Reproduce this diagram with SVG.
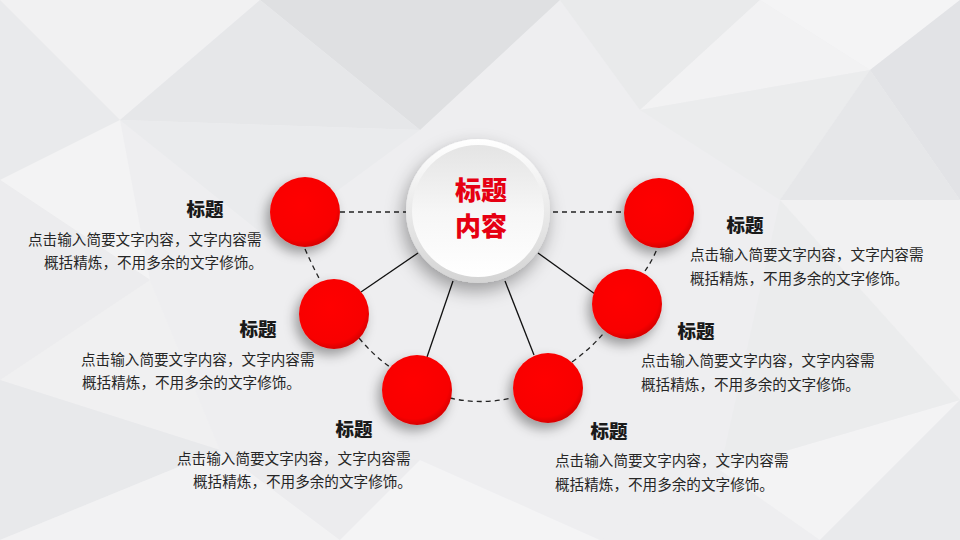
<svg xmlns="http://www.w3.org/2000/svg" width="960" height="540" viewBox="0 0 960 540">
<defs>
<style>
.t{font-family:"Noto Sans CJK SC","Noto Sans",sans-serif;font-weight:900;font-size:18.5px;fill:#1a1a1a;text-anchor:middle}
.b{font-family:"Noto Sans CJK SC","Noto Sans",sans-serif;font-size:14.6px;fill:#262626}
.ctr{font-family:"Noto Sans CJK SC","Noto Sans",sans-serif;font-weight:900;font-size:26px;fill:#e60012;text-anchor:middle}
.dash{fill:none;stroke:#222;stroke-width:1.3;stroke-dasharray:5 4}
.solid{stroke:#111;stroke-width:1.3}
.red{fill:url(#rg);filter:url(#sh)}
</style>
<radialGradient id="rg" cx="0.45" cy="0.4" r="0.6">
<stop offset="0" stop-color="#ff0000"/>
<stop offset="0.85" stop-color="#f80000"/>
<stop offset="1" stop-color="#d80000"/>
</radialGradient>
<linearGradient id="ring" x1="0" y1="0" x2="0" y2="1">
<stop offset="0" stop-color="#ffffff"/>
<stop offset="1" stop-color="#d4d4d4"/>
</linearGradient>
<linearGradient id="face" x1="0" y1="0" x2="0" y2="1">
<stop offset="0" stop-color="#e4e4e4"/>
<stop offset="0.5" stop-color="#f6f6f6"/>
<stop offset="1" stop-color="#ffffff"/>
</linearGradient>
<filter id="sh" x="-60%" y="-60%" width="220%" height="220%">
<feDropShadow dx="-4" dy="6" stdDeviation="6" flood-color="#000" flood-opacity="0.35"/>
</filter>
<filter id="sh2" x="-40%" y="-40%" width="180%" height="180%">
<feDropShadow dx="-3" dy="8" stdDeviation="9" flood-color="#000" flood-opacity="0.35"/>
</filter>
</defs>
<g id="background">
<rect width="960" height="540" fill="#eeeef0"/>
<polygon points="0,0 260,0 120,120" fill="#f1f1f2"/>
<polygon points="260,0 560,0 420,130" fill="#dfe0e2"/>
<polygon points="120,120 260,0 420,130" fill="#e6e7e9"/>
<polygon points="560,0 760,0 640,110" fill="#e9eaeb"/>
<polygon points="760,0 960,0 870,70" fill="#f4f4f5"/>
<polygon points="870,70 960,0 960,200" fill="#e2e3e6"/>
<polygon points="640,110 760,0 870,70" fill="#f2f2f3"/>
<polygon points="640,110 870,70 780,200" fill="#ebeced"/>
<polygon points="870,70 960,200 780,200" fill="#e6e7e9"/>
<polygon points="0,0 120,120 0,180" fill="#e9eaec"/>
<polygon points="0,180 120,120 150,280" fill="#f3f3f4"/>
<polygon points="0,180 150,280 0,380" fill="#ececee"/>
<polygon points="120,120 420,130 270,240" fill="#eaebed"/>
<polygon points="0,380 150,280 220,450" fill="#f0f0f1"/>
<polygon points="0,380 220,450 0,540" fill="#e8e9eb"/>
<polygon points="0,540 220,450 340,540" fill="#f2f2f3"/>
<polygon points="220,450 420,460 340,540" fill="#ececee"/>
<polygon points="340,540 420,460 600,540" fill="#f4f4f5"/>
<polygon points="600,540 720,470 820,540" fill="#eeeef0"/>
<polygon points="820,540 720,470 960,400" fill="#f3f3f4"/>
<polygon points="820,540 960,400 960,540" fill="#e9eaec"/>
<polygon points="780,200 960,200 960,400" fill="#f1f1f2"/>
<polygon points="780,200 960,400 720,470" fill="#ebeced"/>
</g>
<g id="connectors">
<line class="dash" x1="340" y1="212" x2="406" y2="212"/>
<line class="dash" x1="553" y1="212" x2="624" y2="212"/>
<line class="solid" x1="418" y1="253" x2="361" y2="292"/>
<line class="solid" x1="453" y1="281" x2="427" y2="357"/>
<line class="solid" x1="505" y1="281" x2="534" y2="355"/>
<line class="solid" x1="538" y1="253" x2="595" y2="294"/>
<path class="dash" d="M305,249 Q312,265 320,280"/>
<path class="dash" d="M359,338 Q374,356 390,367"/>
<path class="dash" d="M450,398 Q480,405 512,398"/>
<path class="dash" d="M572,362 Q590,349 603,334"/>
<path class="dash" d="M645,271 Q652,261 657,249"/>
</g>
<g id="center">
<circle cx="478" cy="211" r="72" fill="url(#ring)" filter="url(#sh2)"/>
<circle cx="478" cy="211" r="66" fill="url(#face)"/>
<text class="ctr" x="481" y="200">标题</text>
<text class="ctr" x="481" y="236">内容</text>
</g>
<g id="node1">
<circle class="red" cx="305" cy="212" r="35"/>
<text class="t" x="205" y="216">标题</text>
<text class="b" x="28" y="245">点击输入简要文字内容，文字内容需</text>
<text class="b" x="44" y="268">概括精炼，不用多余的文字修饰。</text>
</g>
<g id="node2">
<circle class="red" cx="334" cy="314" r="35"/>
<text class="t" x="258" y="336">标题</text>
<text class="b" x="81" y="365">点击输入简要文字内容，文字内容需</text>
<text class="b" x="82" y="388">概括精炼，不用多余的文字修饰。</text>
</g>
<g id="node3">
<circle class="red" cx="417" cy="390" r="35"/>
<text class="t" x="354" y="436">标题</text>
<text class="b" x="177" y="464">点击输入简要文字内容，文字内容需</text>
<text class="b" x="193" y="487">概括精炼，不用多余的文字修饰。</text>
</g>
<g id="node4">
<circle class="red" cx="548" cy="388" r="35"/>
<text class="t" x="609" y="438">标题</text>
<text class="b" x="555" y="466">点击输入简要文字内容，文字内容需</text>
<text class="b" x="555" y="490">概括精炼，不用多余的文字修饰。</text>
</g>
<g id="node5">
<circle class="red" cx="627" cy="304" r="35"/>
<text class="t" x="696" y="338">标题</text>
<text class="b" x="641" y="366">点击输入简要文字内容，文字内容需</text>
<text class="b" x="641" y="390">概括精炼，不用多余的文字修饰。</text>
</g>
<g id="node6">
<circle class="red" cx="659" cy="213" r="35"/>
<text class="t" x="745" y="232">标题</text>
<text class="b" x="690" y="260">点击输入简要文字内容，文字内容需</text>
<text class="b" x="690" y="284">概括精炼，不用多余的文字修饰。</text>
</g>
</svg>
